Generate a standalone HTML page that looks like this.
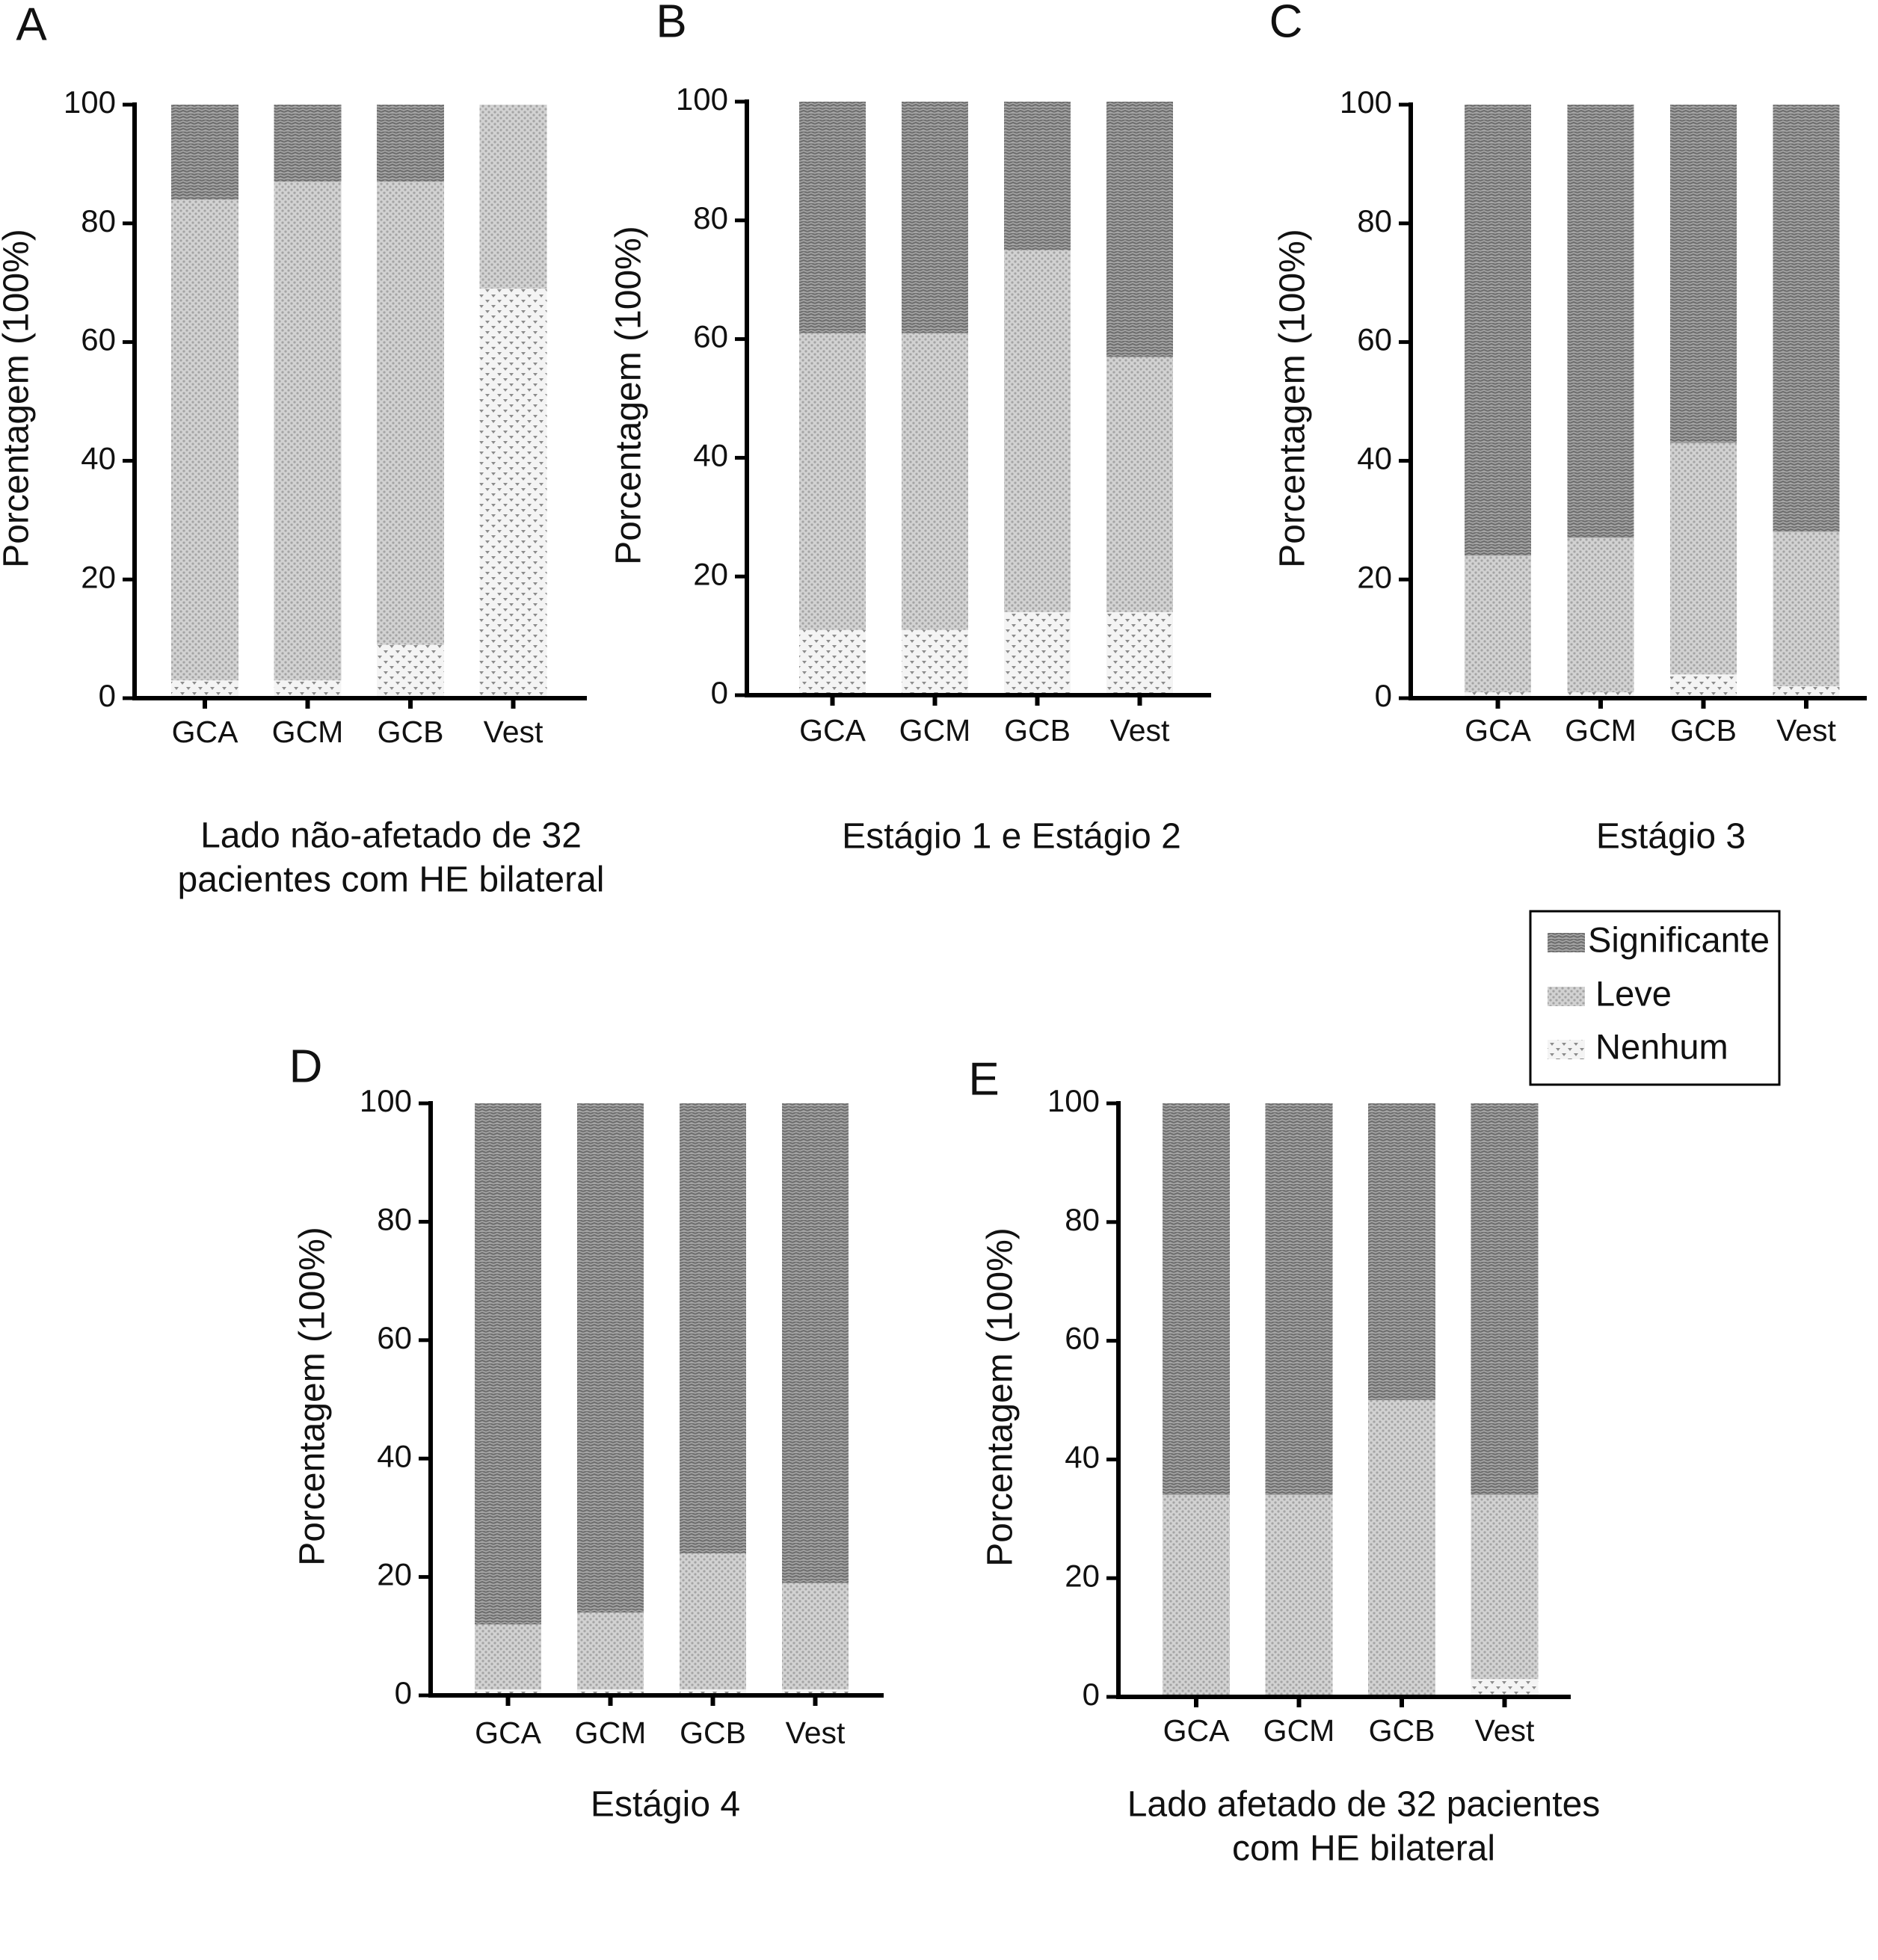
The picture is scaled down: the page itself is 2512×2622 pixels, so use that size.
<!DOCTYPE html>
<html><head><meta charset="utf-8">
<style>
html,body{margin:0;padding:0;background:#fff;}
svg{display:block;}
text{font-family:"Liberation Sans",Arial,sans-serif;fill:#111;}
</style></head>
<body>
<svg id="fig" width="2512" height="2622" viewBox="0 0 2512 2622" xmlns="http://www.w3.org/2000/svg">
<defs>
<pattern id="pSig" width="10" height="8" patternUnits="userSpaceOnUse">
<rect width="10" height="8" fill="#a4a4a4"/>
<path d="M0 2 L5 0 L10 2 M0 6 L5 4 L10 6" stroke="#6c6c6c" stroke-width="2" fill="none"/>
</pattern>
<pattern id="pLeve" width="8" height="8" patternUnits="userSpaceOnUse">
<rect width="8" height="8" fill="#d2d2d2"/>
<circle cx="2" cy="2" r="1.6" fill="#a4a4a4"/><circle cx="6" cy="6" r="1.6" fill="#a4a4a4"/>
</pattern>
<pattern id="pNone" width="16" height="14" patternUnits="userSpaceOnUse">
<rect width="16" height="14" fill="#f4f4f4"/>
<path d="M1 2 L7 2 L4 6 Z M9 9 L15 9 L12 13 Z" fill="#8c8c8c"/>
</pattern>
</defs>
<g id="root"></g>
</svg>
<script>
const categories = ["GCA","GCM","GCB","Vest"];
const yTicks = [0,20,40,60,80,100];
// values per panel: Nenhum, Leve (bottom to top); Significante = remainder to 100
const nenhumA = [3,3,9,69];   const leveA = [81,84,78,31];
const nenhumB = [11,11,14,14]; const leveB = [50,50,61,43];
const nenhumC = [1,1,4,2];    const leveC = [23,26,39,26];
const nenhumD = [1,1,1,1];    const leveD = [11,13,23,18];
const nenhumE = [0,0,0,3];    const leveE = [34,34,50,31];

const panels = [
 {id:"a", letter:"A", lx:42, ly:37, ax:180, y0:934, y100:140, xEnd:785, bar0:229, step:137.5, bw:90, lab:982, cap:["Lado não-afetado de 32","pacientes com HE bilateral"], cx:523, cy:1121, n:nenhumA, l:leveA},
 {id:"b", letter:"B", lx:898, ly:33, ax:999, y0:930, y100:136, xEnd:1620, bar0:1069, step:137, bw:89, lab:980, cap:["Estágio 1 e Estágio 2"], cx:1353, cy:1122, n:nenhumB, l:leveB},
 {id:"c", letter:"C", lx:1720, ly:33, ax:1887, y0:934, y100:140, xEnd:2497, bar0:1959, step:137.5, bw:89, lab:980, cap:["Estágio 3"], cx:2235, cy:1122, n:nenhumC, l:leveC},
 {id:"d", letter:"D", lx:409, ly:1431, ax:576, y0:2268, y100:1476, xEnd:1182, bar0:635, step:137, bw:89, lab:2321, cap:["Estágio 4"], cx:890, cy:2417, n:nenhumD, l:leveD},
 {id:"e", letter:"E", lx:1316, ly:1448, ax:1496, y0:2270, y100:1476, xEnd:2101, bar0:1555, step:137.5, bw:90, lab:2318, cap:["Lado afetado de 32 pacientes","com HE bilateral"], cx:1824, cy:2417, n:nenhumE, l:leveE}
];
const NS="http://www.w3.org/2000/svg";
const root=document.getElementById('root');
function mk(tag,attrs,parent){const e=document.createElementNS(NS,tag);for(const k in attrs)e.setAttribute(k,attrs[k]);parent.appendChild(e);return e;}

panels.forEach(p=>{
 const g=mk('g',{},root);
 
 
 const yS=v=>p.y0-(p.y0-p.y100)*v/100;
 const t=mk('text',{x:p.lx,y:p.ly,'font-size':62,'text-anchor':'middle','dominant-baseline':'middle'},g);
 t.textContent=p.letter;
 
 
 categories.forEach((c,i)=>{
  const x=p.bar0+i*p.step;
  const segs=[[0,p.n[i],'pNone','nenhum'],[p.n[i],p.n[i]+p.l[i],'pLeve','leve'],[p.n[i]+p.l[i],100,'pSig','significante']];
  segs.forEach(s=>{
   if(s[1]-s[0]<=0)return;
   const r=mk('rect',{x:x,y:yS(s[1]),width:p.bw,height:yS(s[0])-yS(s[1]),fill:'url(#'+s[2]+')'},g);
   
   
  });
  const tk=mk('line',{x1:x+p.bw/2,x2:x+p.bw/2,y1:p.y0,y2:p.y0+14,stroke:'#000','stroke-width':6},g);
  
  
  const lb=mk('text',{x:x+p.bw/2,y:p.lab,'font-size':41,'text-anchor':'middle','dominant-baseline':'middle'},g);
  lb.textContent=c;
  
  
 });
 const ya=mk('line',{x1:p.ax,x2:p.ax,y1:p.y100-3,y2:p.y0+3,stroke:'#000','stroke-width':6},g);
 
 
 const xa=mk('line',{x1:p.ax-3,x2:p.xEnd,y1:p.y0,y2:p.y0,stroke:'#000','stroke-width':6},g);
 
 
 yTicks.forEach(v=>{
  const l=mk('line',{x1:p.ax-16,x2:p.ax,y1:yS(v),y2:yS(v),stroke:'#000','stroke-width':5},g);
  
  
  const tx=mk('text',{x:p.ax-25,y:yS(v),'font-size':42,'text-anchor':'end','dominant-baseline':'middle'},g);
  tx.textContent=v;
  
  
 });
 const yt=mk('text',{x:0,y:0,'font-size':48,'text-anchor':'middle','dominant-baseline':'middle',transform:'translate('+(p.ax-155)+','+((p.y0+p.y100)/2-4)+') rotate(-90)'},g);
 yt.textContent='Porcentagem (100%)';
 
 
 p.cap.forEach((s,k)=>{
  const ct=mk('text',{x:p.cx,y:p.cy+k*59,'font-size':48,'text-anchor':'middle','dominant-baseline':'middle'},g);
  ct.textContent=s;
  
  
 });
});

const lg=mk('g',{},root);


mk('rect',{x:2047,y:1219,width:333,height:232,fill:'#fff',stroke:'#000','stroke-width':3},lg);
const legendItems=[["Significante","pSig",1261],["Leve","pLeve",1333],["Nenhum","pNone",1404]];
legendItems.forEach(it=>{
 const sw=mk('rect',{x:2070,y:it[2]-13,width:50,height:26,fill:'url(#'+it[1]+')'},lg);
 
 
 const tx=mk('text',{x:it[0]==="Significante"?2124:2134,y:it[2],'font-size':47,'dominant-baseline':'middle'},lg);
 tx.textContent=it[0];
 
 
});
</script>
</body></html>
